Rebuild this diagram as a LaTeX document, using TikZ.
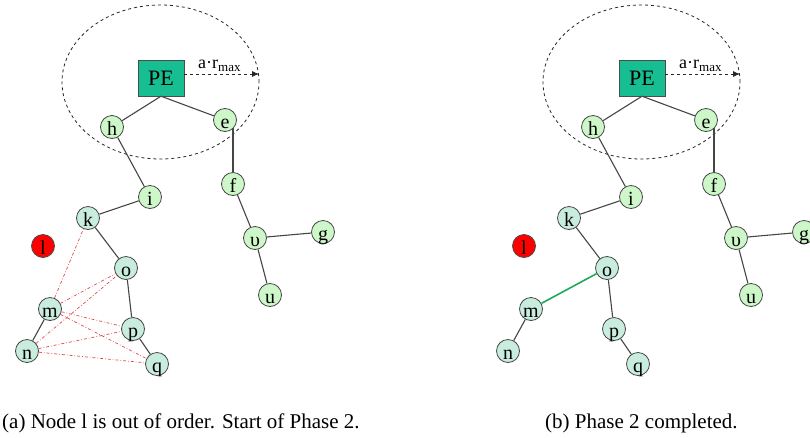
\documentclass[tikz,border=0pt]{standalone}
\usepackage{fontspec}
\setmainfont{Liberation Serif}
\usetikzlibrary{arrows.meta}

\definecolor{pegreen}{RGB}{22,190,145}
\definecolor{upfill}{RGB}{205,247,200}
\definecolor{lowfill}{RGB}{200,236,222}
\definecolor{edgegray}{RGB}{70,70,70}
\definecolor{linkred}{RGB}{228,70,70}
\definecolor{newlink}{RGB}{30,170,90}

% vertex letter: zero-size box with its baseline a little below the centre
\newcommand\vl[1]{\makebox[0pt]{\raisebox{-8pt}[0pt][0pt]{#1}}}

\tikzset{
  vtx/.style={circle, draw=edgegray, line width=0.8pt, minimum size=23pt,
              inner sep=0pt, font=\fontsize{20}{20}\selectfont},
  vup/.style={vtx, fill=upfill},
  vlow/.style={vtx, fill=lowfill},
  vfail/.style={vtx, fill=red, draw=black!70},
  pebox/.style={draw=black!70, fill=pegreen, minimum width=46pt,
                minimum height=36pt, inner sep=0pt,
                font=\fontsize{22}{22}\selectfont},
  treeedge/.style={draw=edgegray, line width=1.1pt},
  cand/.style={draw=linkred, line width=0.7pt, dash dot},
  repair/.style={draw=newlink, line width=1.6pt},
  rangeline/.style={draw=black!85, line width=0.8pt, dashed},
  captext/.style={font=\fontsize{21}{21}\selectfont, inner sep=0pt, anchor=base west},
}

% One panel of the network: PE, its range and the node tree.
% #1 is a prefix for the node names of the panel.
\newcommand\drawpanel[1]{%
  \draw[rangeline] (160.5,82) ellipse [x radius=98.5pt, y radius=77pt];
  \node[pebox] (#1pe) at (161,78) {PE};
  \coordinate (#1tip) at (259,74);
  \draw[rangeline,-{Latex[length=7pt,width=6pt]}] ([yshift=4pt]#1pe.east) -- (#1tip);
  \node[font=\fontsize{18}{18}\selectfont, inner sep=0pt, anchor=base west] (#1lab) at (198,68)
       {a·r\raisebox{-3.5pt}{\fontsize{13}{13}\selectfont max}};
  \node[vup] (#1h) at (112,127) {\vl{h}};
  \node[vup] (#1e) at (225,120) {\vl{e}};
  \node[vup] (#1i) at (150,197) {\vl{i}};
  \node[vup] (#1f) at (233,184) {\vl{f}};
  \node[vup] (#1v) at (255,238) {\vl{υ}};
  \node[vup] (#1g) at (323,232) {\vl{g}};
  \node[vup] (#1u) at (270,295) {\vl{u}};
  \node[vlow] (#1k) at (88,218) {\vl{k}};
  \node[vlow] (#1o) at (126,268) {\vl{o}};
  \node[vlow] (#1m) at (50,309) {\vl{m}};
  \node[vlow] (#1p) at (133,329) {\vl{p}};
  \node[vlow] (#1n) at (27,351) {\vl{n}};
  \node[vlow] (#1q) at (157,364) {\vl{q}};
  \node[vfail] (#1l) at (43,246) {\vl{l}};
  \draw[treeedge] (#1pe.south) -- (#1h);
  \draw[treeedge] (#1pe.south) -- (#1e);
  \draw[treeedge] (#1h) -- (#1i);
  \draw[treeedge] (#1i) -- (#1k);
  \draw[treeedge] (#1k) -- (#1o);
  \draw[treeedge] (#1o) -- (#1p);
  \draw[treeedge] (#1p) -- (#1q);
  \draw[treeedge] (#1m) -- (#1n);
  \draw[treeedge] (#1f.north) -- (#1f.north |- #1e.south east);
  \draw[treeedge] (#1f) -- (#1v);
  \draw[treeedge] (#1v) -- (#1g);
  \draw[treeedge] (#1v) -- (#1u);
}

\begin{document}
\begin{tikzpicture}[x=1pt, y=-1pt]
  \useasboundingbox (0,0) rectangle (810,437);
  \clip (0,0) rectangle (810,437);
  \fill[white] (0,0) rectangle (810,437);

  % (a) start of phase 2: candidate links of the orphaned subtree
  \begin{scope}
    \drawpanel{a}
    \draw[cand] (am) -- (ak);
    \draw[cand] (am) -- (ao);
    \draw[cand] (am) -- (ap);
    \draw[cand] (am) -- (aq);
    \draw[cand] (an) -- (ao);
    \draw[cand] (an) -- (ap);
    \draw[cand] (an) -- (aq);
  \end{scope}
  \node[captext] (capa) at (2,428) {(a) Node l is out of order. Start of Phase 2.};

  % (b) phase 2 completed: the subtree is reattached through o--m
  \begin{scope}[xshift=481pt]
    \drawpanel{b}
    \draw[repair] (bo) -- (bm);
  \end{scope}
  \node[captext] (capb) at (545,428) {(b) Phase 2 completed.};
\end{tikzpicture}
\end{document}
